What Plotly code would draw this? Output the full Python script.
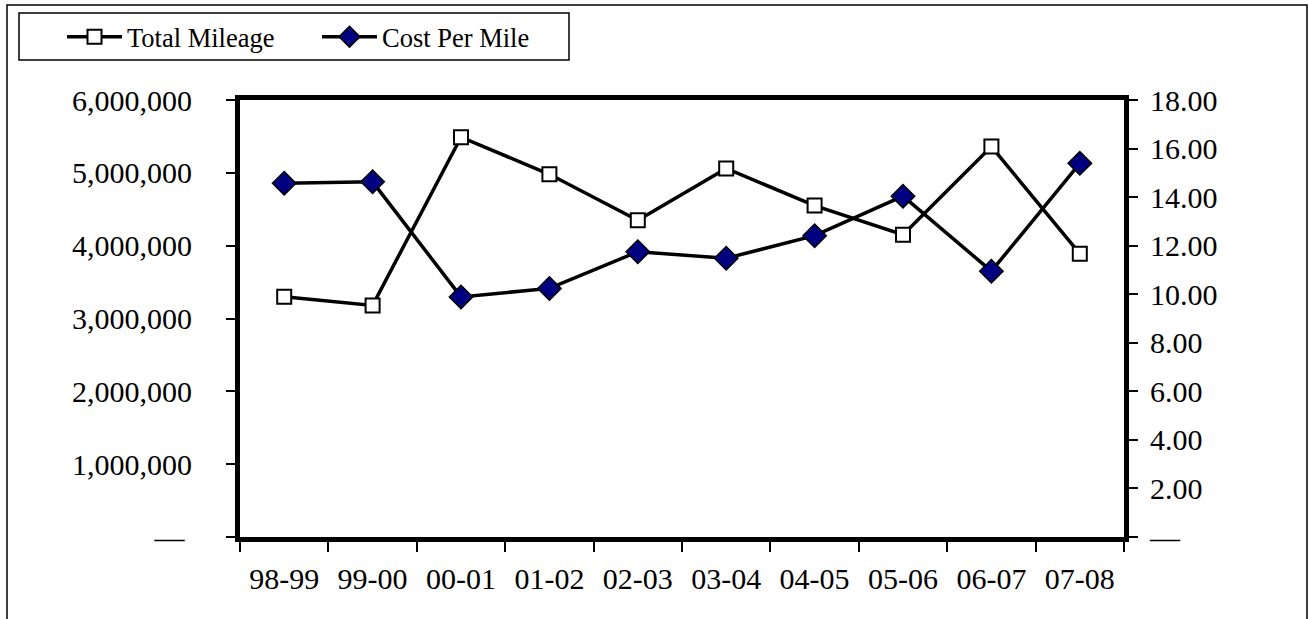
import plotly.graph_objects as go

categories = ["98-99", "99-00", "00-01", "01-02", "02-03", "03-04", "04-05", "05-06", "06-07", "07-08"]
total_mileage = [3300000, 3180000, 5490000, 4980000, 4350000, 5060000, 4550000, 4150000, 5360000, 3890000]
cost_per_mile = [14.57, 14.63, 9.89, 10.24, 11.75, 11.48, 12.41, 14.04, 10.95, 15.39]

left_tickvals = [0, 1000000, 2000000, 3000000, 4000000, 5000000, 6000000]
left_ticktext = ["\u2014\u00a0", "1,000,000", "2,000,000", "3,000,000", "4,000,000", "5,000,000", "6,000,000"]
right_tickvals = [0, 2, 4, 6, 8, 10, 12, 14, 16, 18]
right_ticktext = ["\u2014", "2.00", "4.00", "6.00", "8.00", "10.00", "12.00", "14.00", "16.00", "18.00"]

W, H = 1309, 619
L, R, T, B = 240, 1124, 100, 536.7

def px(x):
    return (x - L) / (R - L)

def py(y):
    return (B - y) / (B - T)

FONT = "Liberation Serif, Times New Roman, serif"

fig = go.Figure()
fig.add_trace(go.Scatter(
    x=categories, y=total_mileage, name="Total Mileage", mode="lines+markers",
    line=dict(color="black", width=3.5),
    marker=dict(symbol="square", size=14, color="white", line=dict(color="black", width=2)),
    yaxis="y"))
fig.add_trace(go.Scatter(
    x=categories, y=cost_per_mile, name="Cost Per Mile", mode="lines+markers",
    line=dict(color="black", width=3.5),
    marker=dict(symbol="diamond", size=18, color="#000080", line=dict(color="black", width=1.5)),
    yaxis="y2"))

fig.update_layout(
    width=W, height=H,
    margin=dict(l=L, r=W - R, t=T, b=H - B),
    paper_bgcolor="white", plot_bgcolor="white",
    font=dict(family=FONT, color="black", size=30),
    showlegend=True,
    legend=dict(orientation="h", x=px(62), y=py(37), xanchor="left", yanchor="middle",
                font=dict(family=FONT, size=26.5, color="black"),
                bgcolor="rgba(0,0,0,0)", borderwidth=0,
                entrywidth=185, itemwidth=55),
    xaxis=dict(type="category", showline=True, linecolor="black", linewidth=5, mirror=True,
               ticks="outside", ticklen=10, tickwidth=1.5, tickcolor="black",
               tickson="boundaries", showgrid=False, zeroline=False,
               tickfont=dict(family=FONT, size=30), ticklabelstandoff=11,
               range=[-0.5, 9.5]),
    yaxis=dict(range=[0, 6000000], tickvals=left_tickvals, ticktext=left_ticktext,
               showline=True, linecolor="black", linewidth=5, mirror=True,
               ticks="outside", ticklen=9, tickwidth=1.5, tickcolor="black",
               showgrid=False, zeroline=False,
               tickfont=dict(family=FONT, size=30), ticklabelstandoff=28),
    yaxis2=dict(range=[0, 18], tickvals=right_tickvals, ticktext=right_ticktext,
                overlaying="y", side="right",
                showline=True, linecolor="black", linewidth=5,
                ticks="outside", ticklen=9, tickwidth=1.5, tickcolor="black",
                showgrid=False, zeroline=False,
                tickfont=dict(family=FONT, size=30), ticklabelstandoff=6),
    shapes=[
        dict(type="rect", xref="paper", yref="paper",
             x0=px(7), x1=px(1307), y0=py(640), y1=py(5),
             line=dict(color="black", width=1.5), fillcolor="rgba(0,0,0,0)", layer="below"),
        dict(type="rect", xref="paper", yref="paper",
             x0=px(19), x1=px(569), y0=py(60), y1=py(13),
             line=dict(color="black", width=1.5), fillcolor="rgba(0,0,0,0)", layer="below"),
    ],
)

fig.write_html("out.html", config={"displayModeBar": False},
               post_script="document.body.style.margin='0';document.body.style.overflow='hidden';")
